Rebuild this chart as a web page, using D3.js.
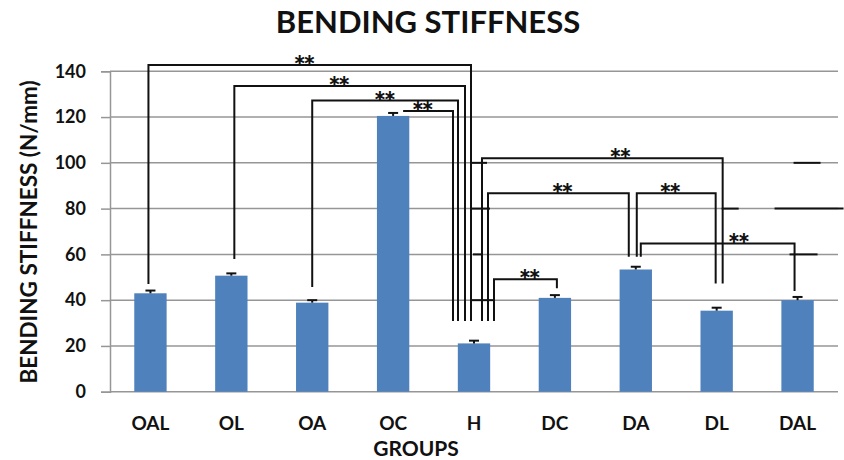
<!DOCTYPE html>
<html>
<head>
<meta charset="utf-8">
<script src="https://cdn.jsdelivr.net/npm/d3@7"></script>
<style>
  html, body { margin: 0; padding: 0; background: #fff; }
  svg { display: block; font-family: Lato, "Open Sans", sans-serif; }
</style>
</head>
<body>
<svg id="chart" width="844" height="460"></svg>
<script>
// Groups and mean bending stiffness (N/mm) with their error bars
const groups = ["OAL", "OL", "OA", "OC", "H", "DC", "DA", "DL", "DAL"];
const means  = [43.0, 50.7, 38.9, 120.5, 21.1, 41.0, 53.4, 35.4, 40.0];
const errors = [1.2, 1.0, 1.1, 1.3, 1.2, 1.2, 1.2, 1.3, 1.4];
const yTicks = [0, 20, 40, 60, 80, 100, 120, 140];

// Significant pairwise comparisons: groups joined, bracket level and foot levels (N/mm)
const pairs       = [["OAL","H"], ["OL","H"], ["OA","H"], ["OC","H"], ["H","DL"], ["H","DA"], ["DA","DL"], ["DA","DAL"], ["H","DC"]];
const pairLevels  = [142.8, 133.6, 127.2, 122.7, 102.0, 86.7, 86.7, 64.8, 49.1];
const footLevels  = [[47.1, 30.9], [58.0, 30.9], [45.7, 30.9], [null, 30.9], [30.9, 47.3], [30.9, 59.0], [59.0, 47.3], [59.0, 44.0], [30.9, 45.2]];
const sigLabels   = ["**", "**", "**", "**", "**", "**", "**", "**", "**"];

// Layout: horizontal nudges of each bracket leg from its bar centre, and label position along the bracket
const legOffsets  = [[-2, -3], [3, -9], [0, -16], [10, -21], [8, 6], [14, -7], [1, -1], [5, -3], [20, 2]];
const labelPos    = [0.48, 0.45, 0.49, 0.37, 0.57, 0.52, 0.41, 0.63, 0.55];

// Extra short rules drawn across the bracket stack: [group, from dx, to dx, level]
const rules = [["H", -2, 13, 100], ["H", -4, 16, 80], ["H", -1, 9, 60], ["H", -2, 20, 40],
               ["DAL", -4, 23, 100], ["DL", 5, 22, 80], ["DAL", -23, 46, 80], ["DAL", -8, 20, 60]];

const plot = { left: 110, right: 838, top: 71.3, bottom: 391.7 };
const svg = d3.select("#chart");

const x = d3.scaleBand().domain(groups).range([plot.left, plot.right])
  .paddingInner(0.6).paddingOuter(0.3);
const y = d3.scaleLinear().domain([0, 140]).range([plot.bottom, plot.top]);
const cx = g => x(g) + x.bandwidth() / 2;

const gridColor = "#969696";

// Horizontal gridlines
svg.append("g").selectAll("line").data(yTicks).join("line")
  .attr("x1", plot.left).attr("x2", plot.right)
  .attr("y1", d => y(d)).attr("y2", d => y(d))
  .attr("stroke", gridColor).attr("stroke-width", 1.5);

// Value axis
const yAxis = svg.append("g").attr("transform", `translate(${plot.left},0)`)
  .call(d3.axisLeft(y).tickValues(yTicks).tickSize(9).tickPadding(15));
yAxis.select(".domain").attr("stroke", gridColor).attr("stroke-width", 1.5);
yAxis.selectAll(".tick line").attr("stroke", gridColor).attr("stroke-width", 1.5);
yAxis.selectAll(".tick text")
  .attr("font-family", "Lato").attr("font-weight", 700).attr("font-size", 18).attr("fill", "#111");

// Bars
svg.append("g").selectAll("rect").data(groups).join("rect")
  .attr("x", g => x(g)).attr("width", x.bandwidth())
  .attr("y", (g, i) => y(means[i]))
  .attr("height", (g, i) => y(0) - y(means[i]))
  .attr("fill", "#4f81bd");

// Error bars (upper whisker with cap)
const eb = svg.append("g").attr("stroke", "#111").attr("stroke-width", 2);
groups.forEach((g, i) => {
  const top = y(means[i] + errors[i]);
  eb.append("line").attr("x1", cx(g)).attr("x2", cx(g)).attr("y1", y(means[i])).attr("y2", top);
  eb.append("line").attr("x1", cx(g) - 5).attr("x2", cx(g) + 5).attr("y1", top).attr("y2", top);
});

// Significance brackets
const br = svg.append("g").attr("fill", "none").attr("stroke", "#111").attr("stroke-width", 2);
pairs.forEach(([a, b], i) => {
  const xa = cx(a) + legOffsets[i][0];
  const xb = cx(b) + legOffsets[i][1];
  const yl = y(pairLevels[i]);
  const [fa, fb] = footLevels[i];
  const path = d3.path();
  if (fa === null) { path.moveTo(xa, yl); } else { path.moveTo(xa, y(fa)); path.lineTo(xa, yl); }
  path.lineTo(xb, yl);
  path.lineTo(xb, y(fb));
  br.append("path").attr("d", path.toString());
  svg.append("text")
    .attr("x", xa + (xb - xa) * labelPos[i]).attr("y", yl + 11)
    .attr("text-anchor", "middle")
    .attr("font-family", "Lato").attr("font-weight", 900).attr("font-size", 29)
    .attr("letter-spacing", -2.5)
    .attr("fill", "#111")
    .text(sigLabels[i]);
});

// Short rules
const rl = svg.append("g").attr("stroke", "#111").attr("stroke-width", 2);
rules.forEach(([g, d1, d2, v]) => {
  rl.append("line").attr("x1", cx(g) + d1).attr("x2", cx(g) + d2).attr("y1", y(v)).attr("y2", y(v));
});

// Category labels
svg.append("g").selectAll("text").data(groups).join("text")
  .attr("x", g => cx(g)).attr("y", 430)
  .attr("text-anchor", "middle")
  .attr("font-family", "Lato").attr("font-weight", 700).attr("font-size", 19).attr("fill", "#111")
  .text(g => g);

// Titles
svg.append("text").attr("x", 428).attr("y", 33).attr("text-anchor", "middle")
  .attr("font-family", "Lato").attr("font-weight", 700).attr("font-size", 31).attr("fill", "#111")
  .text("BENDING STIFFNESS");

svg.append("text").attr("x", 416).attr("y", 456).attr("text-anchor", "middle")
  .attr("font-family", "Lato").attr("font-weight", 700).attr("font-size", 21).attr("fill", "#111")
  .text("GROUPS");

svg.append("text").attr("transform", "translate(37,232) rotate(-90)").attr("text-anchor", "middle")
  .attr("font-family", "Lato").attr("font-weight", 700).attr("font-size", 22.5).attr("fill", "#111")
  .text("BENDING STIFFNESS (N/mm)");
</script>
</body>
</html>
